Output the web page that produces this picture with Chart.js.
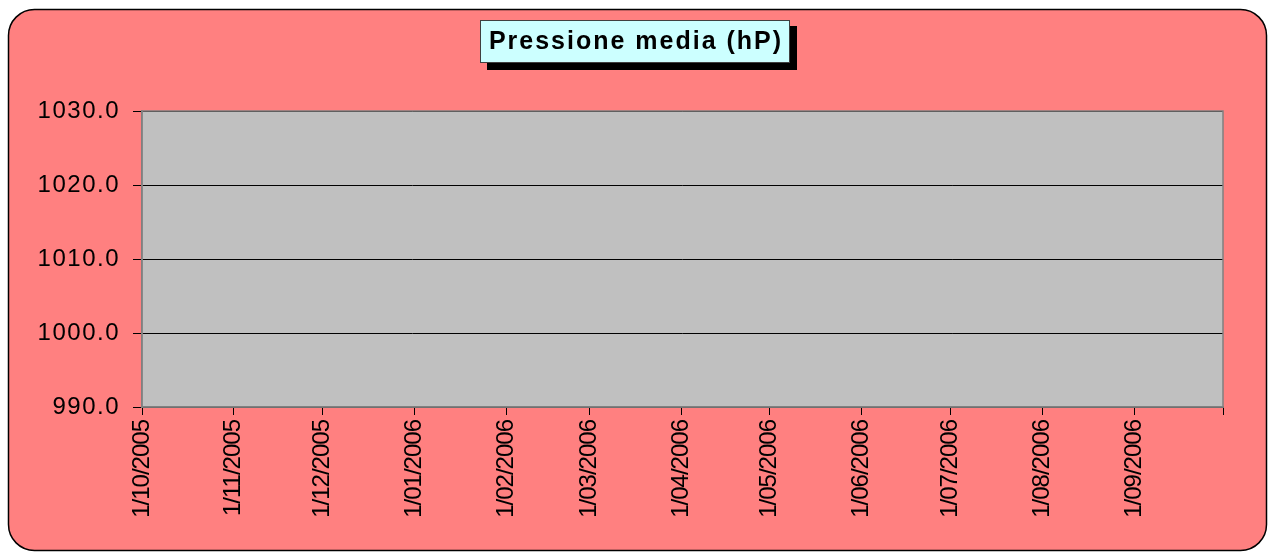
<!DOCTYPE html>
<html>
<head>
<meta charset="utf-8">
<script src="https://cdn.jsdelivr.net/npm/chart.js@4"></script>
<style>
  html, body { margin: 0; padding: 0; background: #fff; }
  #wrap { width: 1274px; height: 554px; }
</style>
</head>
<body>
<div id="wrap"><canvas id="pressione"></canvas></div>
<script>
// dati
const titolo = 'Pressione media (hP)'
const dateMesi = ['1/10/2005', '1/11/2005', '1/12/2005', '1/01/2006', '1/02/2006', '1/03/2006',
                  '1/04/2006', '1/05/2006', '1/06/2006', '1/07/2006', '1/08/2006', '1/09/2006']
const fineAsse = '1/10/2006'
const pressioneDate = []   // nessun valore nel grafico
const pressioneValori = []
const yMin = 990
const yMax = 1030
const yPasso = 10

// giorni dal primo mese
const giorno = s => {
    let [d, m, y] = s.split('/').map(Number)
    return Date.UTC(y, m - 1, d) / 86400000
}
const inizio = giorno(dateMesi[0])
const posMesi = dateMesi.map(s => giorno(s) - inizio)
const posFine = giorno(fineAsse) - inizio

const font = '"Liberation Sans", Arial, sans-serif'

// spaziatura lettere per le etichette degli assi
const spaziatura = (scale, px) => {
    if (scale._spaziato) return
    let orig = scale.drawLabels
    scale.drawLabels = function (area) {
        this.ctx.save()
        this.ctx.letterSpacing = px
        orig.call(this, area)
        this.ctx.restore()
    }
    scale._spaziato = true
}

const sfondo = {
    id: 'sfondo',
    beforeDraw: (chart) => {
        spaziatura(chart.scales.x, '-1px')
        spaziatura(chart.scales.y, '1.5px')
        let ctx = chart.ctx
        let a = chart.chartArea
        ctx.save()
        // riquadro esterno arrotondato
        ctx.beginPath()
        ctx.roundRect(8.5, 9.5, 1258, 541, 26)
        ctx.fillStyle = '#FF8080'
        ctx.fill()
        ctx.lineWidth = 1.5
        ctx.strokeStyle = '#000'
        ctx.stroke()
        // area del grafico
        ctx.fillStyle = '#C0C0C0'
        ctx.fillRect(a.left, a.top, a.right - a.left, a.bottom - a.top)
        ctx.restore()
    },
    afterDraw: (chart) => {
        let ctx = chart.ctx
        let a = chart.chartArea
        ctx.save()
        ctx.strokeStyle = '#808080'
        ctx.lineWidth = 1.5
        ctx.strokeRect(a.left, a.top, a.right - a.left, a.bottom - a.top)
        // titolo con ombra
        ctx.fillStyle = '#000'
        ctx.fillRect(487, 26, 310, 44)
        ctx.fillStyle = '#CCFFFF'
        ctx.fillRect(480, 20, 310, 43)
        ctx.strokeStyle = '#404040'
        ctx.lineWidth = 1
        ctx.strokeRect(480.5, 20.5, 309, 42)
        ctx.fillStyle = '#000'
        ctx.font = 'bold 25px ' + font
        ctx.letterSpacing = '2px'
        ctx.textAlign = 'center'
        ctx.textBaseline = 'middle'
        ctx.fillText(titolo, 636, 42)
        ctx.restore()
    }
}

let ctx = document.getElementById('pressione').getContext('2d')
let grafico = new Chart(ctx, {
    type: 'line',
    data: {
        datasets: [{
            label: titolo,
            data: pressioneDate.map((d, i) => ({ x: giorno(d) - inizio, y: pressioneValori[i] })),
            borderColor: '#000080',
            borderWidth: 1,
            pointRadius: 0
        }]
    },
    options: {
        responsive: true,
        maintainAspectRatio: false,
        animation: false,
        layout: { padding: { top: 111, right: 51, left: 10, bottom: 0 } },
        plugins: {
            legend: { display: false },
            title: { display: false },
            tooltip: { enabled: false }
        },
        scales: {
            x: {
                type: 'linear',
                min: 0,
                max: posFine,
                afterBuildTicks: (scale) => {
                    scale.ticks = posMesi.concat([posFine]).map(v => ({ value: v }))
                },
                afterFit: (scale) => { scale.height = 147 },
                grid: { drawOnChartArea: false, color: '#000', tickLength: 8, tickWidth: 1 },
                border: { color: '#808080', width: 1.5 },
                ticks: {
                    autoSkip: false,
                    minRotation: 90,
                    maxRotation: 90,
                    padding: 5,
                    color: '#000',
                    font: { family: font, size: 24 },
                    callback: (v) => {
                        let i = posMesi.indexOf(v)
                        return i >= 0 ? dateMesi[i] : ''
                    }
                }
            },
            y: {
                min: yMin,
                max: yMax,
                afterFit: (scale) => { scale.width = 132 },
                grid: { color: '#000', lineWidth: 1, tickLength: 9 },
                border: { color: '#808080', width: 1.5 },
                ticks: {
                    stepSize: yPasso,
                    padding: 13,
                    color: '#000',
                    font: { family: font, size: 24 },
                    callback: (v) => v.toFixed(1)
                }
            }
        }
    },
    plugins: [sfondo]
})
</script>
</body>
</html>
